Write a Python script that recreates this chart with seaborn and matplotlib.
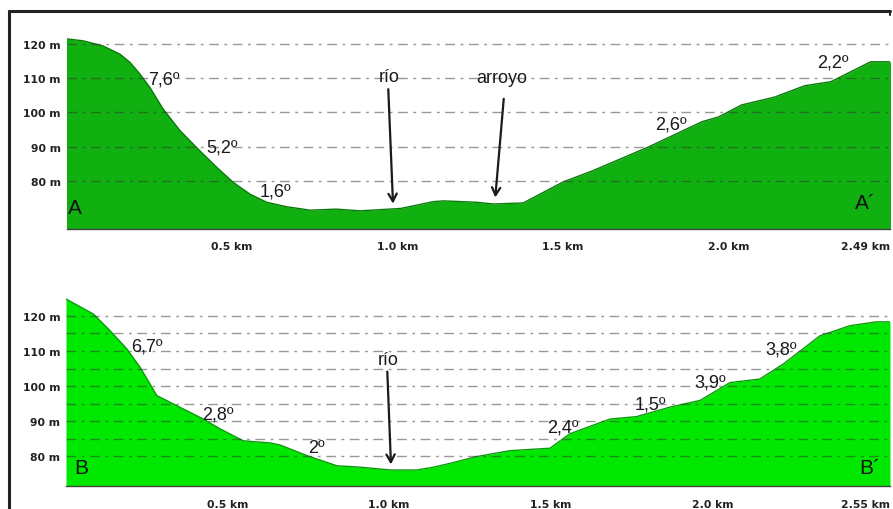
import numpy as np
import pandas as pd
import matplotlib
matplotlib.use("Agg")
import matplotlib.pyplot as plt
from matplotlib.lines import Line2D
import seaborn as sns

# ---------------- data ----------------
# Profile A - A´ (distance km, elevation m)
a_km = [0.000, 0.051, 0.111, 0.162, 0.192, 0.222, 0.252, 0.292, 0.343, 0.403, 0.454,
        0.504, 0.554, 0.605, 0.665, 0.736, 0.816, 0.887, 1.01, 1.11, 1.14, 1.24,
        1.29, 1.38, 1.50, 1.59, 1.76, 1.92, 1.97, 2.04, 2.14, 2.23, 2.31, 2.43, 2.49]
a_elev = [121.5, 120.9, 119.4, 117.0, 114.6, 111.2, 107.3, 101.0, 94.7, 88.8, 84.0,
          79.6, 76.2, 73.8, 72.5, 71.5, 71.8, 71.3, 72.0, 74.0, 74.2, 73.8,
          73.3, 73.6, 79.7, 83.0, 90.0, 97.3, 98.7, 102.2, 104.5, 107.8, 109.0, 114.8, 114.8]

# Profile B - B´
b_km = [0.000, 0.085, 0.136, 0.188, 0.229, 0.281, 0.343, 0.425, 0.477, 0.549, 0.632,
        0.663, 0.745, 0.838, 0.910, 1.003, 1.086, 1.137, 1.189, 1.270, 1.374, 1.498,
        1.559, 1.683, 1.766, 1.869, 1.962, 2.055, 2.147, 2.220, 2.333, 2.426, 2.508, 2.550]
b_elev = [124.8, 120.5, 115.8, 110.6, 105.4, 97.3, 94.4, 90.6, 87.8, 84.4, 83.8,
          83.2, 80.2, 77.3, 76.9, 76.1, 76.1, 76.9, 78.0, 79.9, 81.6, 82.3,
          86.4, 90.6, 91.3, 94.0, 95.9, 101.0, 102.0, 106.3, 114.3, 117.2, 118.3, 118.3]

# slope labels (text, km, m)
a_slope_text = ["7,6º", "5,2º", "1,6º", "2,6º", "2,2º"]
a_slope_x = [0.293, 0.471, 0.631, 1.828, 2.316]
a_slope_y = [109.8, 89.8, 77.2, 96.6, 114.8]

b_slope_text = ["6,7º", "2,8º", "2º", "2,4º", "1,5º", "3,9º", "3,8º"]
b_slope_x = [0.249, 0.469, 0.776, 1.539, 1.808, 1.994, 2.214]
b_slope_y = [111.5, 92.1, 82.6, 88.3, 94.9, 101.2, 110.6]

# arrows (label, text x, text y, tail x, tail y, head x, head y)
a_arrow_text = ["río", "arroyo"]
a_arrow_tx = [0.974, 1.316]
a_arrow_ty = [110.6, 110.3]
a_arrow_sx = [0.972, 1.322]
a_arrow_sy = [107.6, 104.8]
a_arrow_hx = [0.987, 1.295]
a_arrow_hy = [72.6, 74.4]

b_arrow_text = ["río"]
b_arrow_tx = [0.997]
b_arrow_ty = [107.7]
b_arrow_sx = [0.994]
b_arrow_sy = [104.9]
b_arrow_hx = [1.006]
b_arrow_hy = [76.9]

a_yticks = [80, 90, 100, 110, 120]
b_yticks = [80, 90, 100, 110, 120]
b_minor_yticks = [85, 95, 105, 115]
a_xticks = [0.0, 0.5, 1.0, 1.5, 2.0, 2.49]
a_xlabels = ["", "0.5 km", "1.0 km", "1.5 km", "2.0 km", "2.49 km"]
b_xticks = [0.0, 0.5, 1.0, 1.5, 2.0, 2.55]
b_xlabels = ["", "0.5 km", "1.0 km", "1.5 km", "2.0 km", "2.55 km"]

# ---------------- style ----------------
sns.set_style("white")
plt.rcParams['font.family'] = ['Liberation Sans', 'DejaVu Sans']

W, H = 893, 510
fig = plt.figure(figsize=(W / 100, H / 100), dpi=100)
fig.patch.set_facecolor("white")


def px_axes(left, top, right, bottom):
    return fig.add_axes([left / W, 1 - bottom / H, (right - left) / W, (bottom - top) / H])


ax_a = px_axes(66.5, 38.1, 890.5, 230.0)
ax_b = px_axes(66.0, 295.8, 890.0, 487.3)

# figure frame lines
fig.add_artist(Line2D([9 / W, 890 / W], [1 - 12 / H, 1 - 12 / H], color="#222222", lw=2.2,
                      transform=fig.transFigure))
fig.add_artist(Line2D([9 / W, 9 / W], [1 - 12 / H, 0], color="#222222", lw=2.2,
                      transform=fig.transFigure))
fig.add_artist(Line2D([890 / W, 890 / W], [1 - 12 / H, 1 - 16 / H], color="#222222", lw=1.5,
                      transform=fig.transFigure))

grid_style = dict(color="#333333", alpha=0.5, lw=1.0, linestyle=(0, (7, 4, 2, 4)))
tick_font = dict(family="DejaVu Sans", weight="bold", size=7.8)


def draw_profile(ax, km, elev, fill, edge, ylim, yticks, minor, xticks, xlabels):
    df = pd.DataFrame({"km": km, "m": elev})
    ax.fill_between(df["km"], ylim[0], df["m"], color=fill, lw=0, zorder=1)
    sns.lineplot(data=df, x="km", y="m", ax=ax, color=edge, lw=1.0, zorder=2)
    ax.set_xlim(km[0], km[-1])
    ax.set_ylim(*ylim)
    ax.set_xlabel("")
    ax.set_ylabel("")
    ax.set_yticks(yticks)
    ax.set_yticklabels([f"{t} m" for t in yticks], **tick_font, color="#222222")
    if minor:
        ax.set_yticks(minor, minor=True)
    ax.set_xticks(xticks)
    ax.set_xticklabels(xlabels, **tick_font, color="#222222")
    lbls = ax.get_xticklabels()
    lbls[-1].set_horizontalalignment("right")
    ax.tick_params(axis="y", length=0, pad=4, which="both")
    ax.tick_params(axis="x", length=4, width=0.8, color="#444444", pad=5, direction="out")
    ax.grid(False)
    ax.yaxis.grid(True, which="both", **grid_style)
    ax.xaxis.grid(False)
    ax.set_axisbelow(False)
    for s in ["top", "right", "left"]:
        ax.spines[s].set_visible(False)
    ax.spines["bottom"].set_color("#444444")
    ax.spines["bottom"].set_linewidth(1.0)
    ax.spines["bottom"].set_zorder(4)


draw_profile(ax_a, a_km, a_elev, "#10B010", "#0A7A0A", (66.0, 122.0), a_yticks, None,
             a_xticks, a_xlabels)
draw_profile(ax_b, b_km, b_elev, "#00E800", "#0A9A0A", (71.45, 126.0), b_yticks,
             b_minor_yticks, b_xticks, b_xlabels)

text_kw = dict(fontsize=13, color="#1a1a1a", ha="center", va="center", zorder=5)

for t, x, y in zip(a_slope_text, a_slope_x, a_slope_y):
    ax_a.text(x, y, t, **text_kw)
for t, x, y in zip(b_slope_text, b_slope_x, b_slope_y):
    ax_b.text(x, y, t, **text_kw)

arrow_kw = dict(arrowstyle="->,head_length=0.55,head_width=0.3", color="#1a1a1a", lw=1.6)
for t, tx, ty, sx, sy, hx, hy in zip(a_arrow_text, a_arrow_tx, a_arrow_ty, a_arrow_sx,
                                      a_arrow_sy, a_arrow_hx, a_arrow_hy):
    ax_a.text(tx, ty, t, **text_kw)
    ax_a.annotate("", xy=(hx, hy), xytext=(sx, sy), arrowprops=arrow_kw, zorder=5)
for t, tx, ty, sx, sy, hx, hy in zip(b_arrow_text, b_arrow_tx, b_arrow_ty, b_arrow_sx,
                                      b_arrow_sy, b_arrow_hx, b_arrow_hy):
    ax_b.text(tx, ty, t, **text_kw)
    ax_b.annotate("", xy=(hx, hy), xytext=(sx, sy), arrowprops=arrow_kw, zorder=5)

end_kw = dict(fontsize=15, color="#111111", va="center", zorder=5)
ax_a.text(0.005, 72.4, "A", ha="left", **end_kw)
ax_a.text(2.445, 73.7, "A´", ha="right", **end_kw)
ax_b.text(0.025, 76.7, "B", ha="left", **end_kw)
ax_b.text(2.52, 76.8, "B´", ha="right", **end_kw)

fig.savefig("out.png", dpi=100, facecolor="white")
